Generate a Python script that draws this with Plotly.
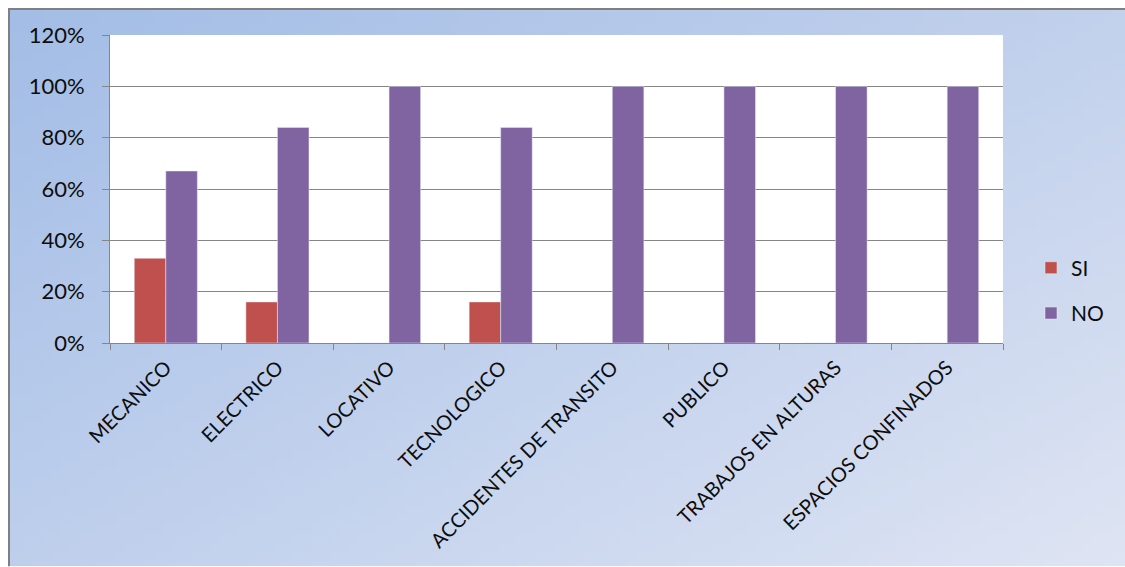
import base64
import struct
import zlib

import plotly.graph_objects as go

# Categories and shares per answer
categorias = [
    "MECANICO", "ELECTRICO", "LOCATIVO", "TECNOLOGICO",
    "ACCIDENTES DE TRANSITO", "PUBLICO", "TRABAJOS EN ALTURAS", "ESPACIOS CONFINADOS",
]
si = [0.33, 0.16, 0.0, 0.16, 0.0, 0.0, 0.0, 0.0]
no = [0.67, 0.84, 1.0, 0.84, 1.0, 1.0, 1.0, 1.0]

W, H = 1125, 567
ML, MR, MT, MB = 110, 122, 35, 223.5
PW, PH = W - ML - MR, H - MT - MB
FONT = "Lato, 'Open Sans', sans-serif"
TEXT = "#0d0d0d"


def px_x(x):
    return (x - ML) / PW


def px_y(y):
    return (H - MB - y) / PH


def gradient_png(w, h, tl, tr, bl, br):
    """Small bilinear gradient PNG, returned as a data URI."""
    rows = b""
    for j in range(h):
        v = j / (h - 1)
        row = b"\x00"
        for i in range(w):
            u = i / (w - 1)
            row += bytes(
                round(tl[k] * (1 - u) * (1 - v) + tr[k] * u * (1 - v)
                      + bl[k] * (1 - u) * v + br[k] * u * v)
                for k in range(3)
            )
        rows += row

    def chunk(tag, data):
        c = struct.pack(">I", len(data)) + tag + data
        return c + struct.pack(">I", zlib.crc32(tag + data) & 0xFFFFFFFF)

    png = b"\x89PNG\r\n\x1a\n"
    png += chunk(b"IHDR", struct.pack(">IIBBBBB", w, h, 8, 2, 0, 0, 0))
    png += chunk(b"IDAT", zlib.compress(rows, 9))
    png += chunk(b"IEND", b"")
    return "data:image/png;base64," + base64.b64encode(png).decode()


bg = gradient_png(120, 60, (163, 189, 230), (194, 209, 236),
                  (190, 207, 236), (222, 228, 243))

fig = go.Figure()
fig.add_trace(go.Bar(name="SI", x=categorias, y=si, marker_color="#C0504D",
                     legendgroup="si"))
fig.add_trace(go.Bar(name="NO", x=categorias, y=no, marker_color="#8064A2",
                     legendgroup="no"))

fig.update_layout(
    width=W, height=H,
    margin=dict(l=ML, r=MR, t=MT, b=MB, pad=0, autoexpand=False),
    paper_bgcolor="white",
    plot_bgcolor="white",
    barmode="group",
    bargap=0.435,
    bargroupgap=0,
    font=dict(family=FONT, size=21, color=TEXT),
    showlegend=True,
    legend=dict(
        x=px_x(1031), y=px_y(291), xanchor="left", yanchor="middle",
        bgcolor="rgba(0,0,0,0)", font=dict(size=21, color=TEXT),
        tracegroupgap=15, itemwidth=30,
    ),
    images=[dict(
        source=bg, xref="paper", yref="paper",
        x=px_x(10), y=px_y(10), sizex=px_x(W) - px_x(10), sizey=px_y(10) - px_y(H),
        xanchor="left", yanchor="top", sizing="stretch", layer="below",
    )],
    shapes=[
        # white plotting area on top of the gradient backdrop
        dict(type="rect", xref="paper", yref="paper", x0=0, x1=1, y0=0, y1=1,
             fillcolor="white", line=dict(width=0), layer="below"),
        # chart frame, top and left edges
        dict(type="line", xref="paper", yref="paper", x0=px_x(8), x1=px_x(W),
             y0=px_y(9), y1=px_y(9), line=dict(color="#808080", width=2)),
        dict(type="line", xref="paper", yref="paper", x0=px_x(9), x1=px_x(9),
             y0=px_y(8), y1=px_y(H), line=dict(color="#808080", width=2)),
    ],
)

fig.update_xaxes(
    type="category",
    automargin=False,
    tickangle=-45,
    tickson="boundaries",
    ticks="outside", ticklen=6, tickcolor="#868686",
    showline=True, linecolor="#868686", linewidth=1,
    showgrid=False,
    ticklabelstandoff=4,
    tickfont=dict(size=20, color=TEXT),
)
fig.update_yaxes(
    automargin=False,
    range=[0, 1.2], dtick=0.2, tick0=0, tickformat=".0%",
    ticks="outside", ticklen=7, tickcolor="#868686",
    showline=True, linecolor="#868686", linewidth=1,
    showgrid=True, gridcolor="#868686", gridwidth=1,
    zeroline=False,
    ticklabelstandoff=13,
    tickfont=dict(size=22, color=TEXT),
)

fig.write_html("out.html")
